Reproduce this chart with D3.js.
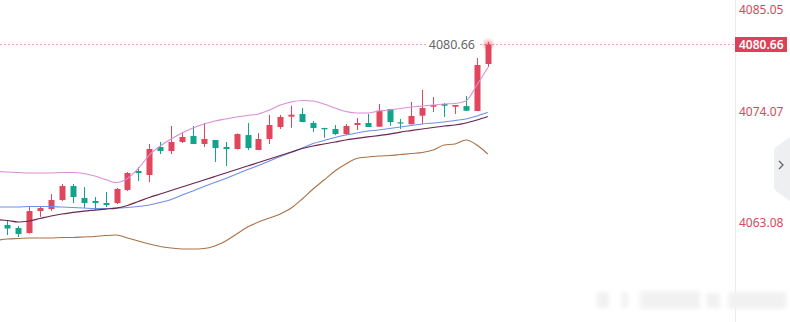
<!DOCTYPE html>
<html>
<head>
<meta charset="utf-8">
<script src="https://cdn.jsdelivr.net/npm/d3@7/dist/d3.min.js"></script>
<style>
html,body{margin:0;padding:0;background:#fff;}
svg{display:block;}
text{font-family:"Noto Sans","Open Sans",sans-serif;}
</style>
</head>
<body>
<svg id="chart" width="790" height="322"></svg>
<script>
// slot 0 is the period just left of the visible area (lines only)
const slots = d3.range(46);

// candles occupy slots 1..45
const open  = [4062.68,4062.38,4061.88,4064.07,4064.27,4065.17,4066.56,4065.37,4065.07,4064.87,4064.87,4066.17,4068.06,4067.66,4070.45,4070.05,4070.95,4071.55,4070.75,4071.15,4070.45,4070.25,4071.64,4070.15,4071.25,4072.44,4073.47,4073.74,4072.84,4072.34,4072.24,4071.74,4072.64,4072.84,4072.47,4074.23,4072.91,4072.71,4073.57,4074.46,4074.73,4074.46,4074.53,4074.03,4078.72];
const close = [4062.33,4061.78,4064.07,4064.37,4065.17,4066.56,4065.47,4064.87,4064.87,4064.67,4066.27,4067.86,4067.86,4070.25,4070.05,4070.95,4071.45,4070.75,4071.25,4070.35,4070.25,4071.74,4070.35,4071.25,4072.64,4073.44,4073.67,4072.94,4072.34,4072.21,4071.74,4072.54,4072.84,4072.44,4074.06,4072.94,4072.81,4073.54,4074.33,4074.63,4074.56,4074.63,4074.06,4078.62,4080.66];
const high  = [4063.08,4062.58,4064.47,4064.57,4065.77,4066.76,4066.76,4066.46,4065.47,4065.97,4066.37,4067.96,4068.46,4070.75,4070.95,4072.54,4071.94,4072.54,4072.84,4071.15,4070.95,4071.80,4072.84,4071.84,4073.64,4073.64,4074.56,4074.33,4073.04,4072.37,4072.64,4072.74,4073.34,4073.74,4074.73,4074.23,4073.24,4074.93,4076.13,4075.43,4074.83,4074.63,4075.53,4079.31,4080.91];
const low   = [4061.68,4061.48,4061.83,4063.48,4064.07,4065.07,4064.87,4064.37,4064.17,4064.47,4064.77,4066.07,4067.06,4066.96,4069.75,4069.75,4070.85,4070.75,4070.45,4068.96,4068.56,4070.20,4070.15,4070.15,4070.75,4072.24,4072.37,4072.94,4071.94,4071.37,4071.64,4071.64,4072.14,4072.44,4072.47,4072.57,4072.24,4072.71,4072.74,4073.94,4073.44,4073.74,4074.06,4074.03,4078.42];

// lines over slots 0..45
const upperBand = [4068.01,4067.96,4067.91,4067.86,4067.86,4067.86,4067.91,4067.91,4067.81,4067.56,4067.21,4066.91,4067.31,4068.31,4069.65,4070.55,4071.25,4071.84,4072.34,4072.74,4073.04,4073.24,4073.44,4073.59,4073.74,4074.13,4074.63,4074.93,4075.08,4075.03,4074.73,4074.33,4073.99,4073.84,4073.84,4074.03,4074.13,4074.28,4074.43,4074.53,4074.63,4074.73,4074.78,4075.03,4076.62,4078.37];
const midBand   = [4064.47,4064.47,4064.47,4064.52,4064.52,4064.52,4064.47,4064.42,4064.37,4064.32,4064.32,4064.37,4064.42,4064.52,4064.67,4064.92,4065.22,4065.67,4066.07,4066.52,4066.91,4067.31,4067.76,4068.21,4068.61,4069.05,4069.50,4069.90,4070.35,4070.80,4071.10,4071.40,4071.64,4071.84,4072.04,4072.14,4072.29,4072.44,4072.59,4072.74,4072.84,4072.94,4073.09,4073.24,4073.54,4073.89];
const lowerBand = [4061.14,4061.29,4061.34,4061.39,4061.39,4061.39,4061.44,4061.44,4061.49,4061.54,4061.63,4061.68,4061.39,4061.09,4060.79,4060.54,4060.39,4060.29,4060.29,4060.34,4060.59,4061.09,4061.78,4062.48,4062.98,4063.38,4063.78,4064.37,4065.27,4066.27,4067.16,4068.06,4068.76,4069.30,4069.45,4069.55,4069.60,4069.70,4069.80,4069.90,4070.15,4070.65,4070.75,4071.15,4070.65,4069.75];
const maLine    = [4063.23,4063.13,4062.98,4063.08,4063.33,4063.58,4063.78,4063.93,4064.07,4064.17,4064.27,4064.37,4064.62,4065.02,4065.42,4065.77,4066.12,4066.47,4066.81,4067.16,4067.51,4067.86,4068.21,4068.56,4068.91,4069.25,4069.60,4069.95,4070.30,4070.55,4070.75,4070.95,4071.15,4071.30,4071.45,4071.59,4071.74,4071.94,4072.09,4072.24,4072.39,4072.54,4072.64,4072.84,4073.14,4073.49];

const tickValues = [4085.05, 4074.07, 4063.08];
const lastPrice = 4080.66;
const lastLabel = "4080.66";

const UP = "#e0475d", DOWN = "#10a58a";

const svg = d3.select("#chart");
const W = 790, H = 322, axisX = 735;

const x = d3.scaleBand().domain(slots).range([-9.06, 493.26]).paddingInner(0).paddingOuter(0);
const y = d3.scaleLinear().domain([4063.08, 4085.05]).range([221, 0.4]);
const cx = i => x(i) + x.bandwidth() / 2;

// right axis separator
svg.append("line").attr("x1", axisX + 0.5).attr("x2", axisX + 0.5).attr("y1", 0).attr("y2", H)
  .attr("stroke", "#ececec").attr("stroke-width", 1);

// watermark (blurred)
const defs = svg.append("defs");
defs.append("filter").attr("id", "blur").append("feGaussianBlur").attr("stdDeviation", 2);
const rg = defs.append("radialGradient").attr("id", "glow");
rg.append("stop").attr("offset", "0%").attr("stop-color", "#e0475d").attr("stop-opacity", 0.55);
rg.append("stop").attr("offset", "100%").attr("stop-color", "#e0475d").attr("stop-opacity", 0);

const wm = svg.append("g").attr("filter", "url(#blur)").attr("fill", "#f1f1f1");
[[597,292,12,16],[622,292,6,16],[640,291,60,18],[706,293,14,15],[728,292,58,17]].forEach(r => {
  wm.append("rect").attr("x", r[0]).attr("y", r[1]).attr("width", r[2]).attr("height", r[3]).attr("rx", 2);
});

// last price dashed line
const py = Math.round(y(lastPrice)) + 0.5;
svg.append("line").attr("x1", 0).attr("x2", axisX).attr("y1", py).attr("y2", py)
  .attr("stroke", "#eba3ad").attr("stroke-width", 1).attr("stroke-dasharray", "2,2");

// candles
const candles = open.map((o, k) => ({slot: k + 1, o, c: close[k], h: high[k], l: low[k]}));
const cg = svg.append("g");
candles.forEach(d => {
  const col = d.c >= d.o ? UP : DOWN;
  const xc = Math.round(cx(d.slot));
  cg.append("line").attr("x1", xc + 0.5).attr("x2", xc + 0.5)
    .attr("y1", y(d.h)).attr("y2", y(d.l)).attr("stroke", col).attr("stroke-width", 1);
  const top = y(Math.max(d.o, d.c)), bot = y(Math.min(d.o, d.c));
  cg.append("rect").attr("x", xc - 2.5).attr("width", 6)
    .attr("y", top).attr("height", Math.max(1.2, bot - top)).attr("fill", col);
});

// lines
const lineGen = d3.line().x((d, i) => cx(slots[i])).y(d => y(d)).curve(d3.curveMonotoneX);
const series = [
  {v: lowerBand, c: "#aa7248", w: 1.1},
  {v: upperBand, c: "#d98fd6", w: 1.1},
  {v: midBand,   c: "#6f8fe6", w: 1.1},
  {v: maLine,    c: "#6b2550", w: 1.2}
];
series.forEach(s => {
  svg.append("path").attr("d", lineGen(s.v)).attr("fill", "none")
    .attr("stroke", s.c).attr("stroke-width", s.w);
});

// glow at latest candle top
svg.append("circle").attr("cx", cx(45) + 0.5).attr("cy", y(lastPrice)).attr("r", 7).attr("fill", "url(#glow)");

// last price label on the chart
const lbl = svg.append("g");
lbl.append("rect").attr("x", 426).attr("y", py - 8).attr("width", 52).attr("height", 16).attr("fill", "#fff");
lbl.append("text").attr("x", 475).attr("y", py).attr("dy", "0.35em").attr("text-anchor", "end")
  .attr("font-size", 12.5).attr("fill", "#666").text(lastLabel);

// right axis tick labels
tickValues.forEach(v => {
  const ty = Math.max(9.5, y(v) + 1.5);
  svg.append("text").attr("x", 739).attr("y", ty).attr("dy", "0.35em")
    .attr("font-size", 12).attr("fill", "#d9485d").text(d3.format(".2f")(v));
});

// last price box on axis
svg.append("rect").attr("x", axisX).attr("y", py - 7.5).attr("width", 52).attr("height", 15).attr("fill", "#dc4257");
svg.append("text").attr("x", 739).attr("y", py).attr("dy", "0.36em").attr("font-size", 12)
  .attr("font-weight", 600).attr("fill", "#fff").text(lastLabel);

// side collapse tab
svg.append("path").attr("d", "M790,137 L776,147 L774,150 L774,188 L776,191 L790,201 Z")
  .attr("fill", "#eeeff1");
svg.append("path").attr("d", "M779,161 L783,165 L779,169").attr("fill", "none")
  .attr("stroke", "#666").attr("stroke-width", 1.3);
</script>
</body>
</html>
